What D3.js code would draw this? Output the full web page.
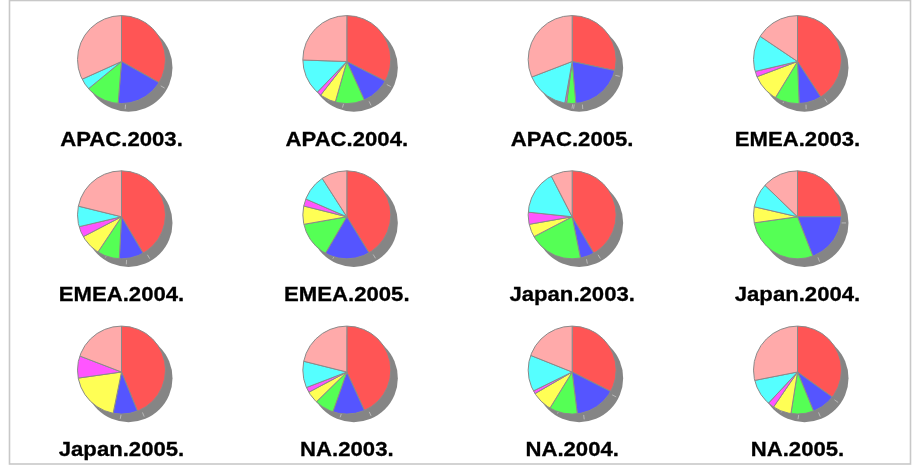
<!DOCTYPE html>
<html>
<head>
<meta charset="utf-8">
<script src="https://cdn.jsdelivr.net/npm/d3@7"></script>
<style>
html,body{margin:0;padding:0;background:#fff;overflow:hidden}
svg{display:block;filter:blur(0.6px)}
text{font-family:"Liberation Sans",Arial,sans-serif;font-weight:bold;font-size:20.5px;fill:#000;stroke:#000;stroke-width:0.3px}
</style>
</head>
<body>
<div id="chart"></div>
<script>
const categories = ["APAC.2003.","APAC.2004.","APAC.2005.","EMEA.2003.","EMEA.2004.","EMEA.2005.","Japan.2003.","Japan.2004.","Japan.2005.","NA.2003.","NA.2004.","NA.2005."];
const series1 = [119.4,117,102,146.8,149.3,148.5,149.3,90,157.8,155.4,116.8,125.8];
const series2 = [65.2,38.5,73,30.9,33.7,61.9,19.3,68.7,33.7,43.9,56.2,31.9];
const series3 = [45.9,40.3,12.7,33.7,30.7,49.6,73.9,103.3,0,26.3,38.6,31.3];
const series4 = [0,22,0,38,28.8,24,17.5,21,70.5,16.4,28.2,25.4];
const series5 = [0,6,2.3,7.4,14.3,9.4,16,0,29,7,4.2,8.6];
const series6 = [15.3,48,59,47.2,27,33.9,56.8,31,0,35,47.8,35.9];
const series7 = [114.2,88,111,56,76.2,32.7,27.2,46,69,76,68.2,101.1];
const allSeries = [series1,series2,series3,series4,series5,series6,series7];
const colors = ["#ff5555","#5555ff","#55ff55","#ffff55","#ff55ff","#55ffff","#ffaaaa"];

const W = 913, H = 467, R = 44, RIM_DY = -1.9, SHX = 7, SHY = 6.2;
const svg = d3.select("#chart").append("svg").attr("width",W).attr("height",H);

svg.append("rect").attr("x",9.5).attr("y",0.5).attr("width",901).attr("height",463.5)
  .attr("fill","#fff").attr("stroke","#c8c8c8").attr("stroke-width",1.6);

svg.append("clipPath").attr("id","rim").append("circle").attr("cy",RIM_DY).attr("r",R);

const x = d3.scalePoint().domain(d3.range(4)).range([121.5,797.5]);
const y = d3.scalePoint().domain(d3.range(3)).range([61.5,372]);
const labelY = d3.scalePoint().domain(d3.range(3)).range([146,456]);
const color = d3.scaleOrdinal().domain(d3.range(7)).range(colors);
const pie = d3.pie().sort(null).value(d=>d.v);
const arc = d3.arc().innerRadius(0).outerRadius(R+5);

categories.forEach((name,i)=>{
  const data = allSeries.map((s,k)=>({k,v:s[i]}));
  const arcs = pie(data).filter(a=>a.data.v>0);
  const col = i%4, row = Math.floor(i/4);
  const g = svg.append("g").attr("transform",`translate(${x(col)},${y(row)})`);

  const shadow = g.append("g").attr("transform",`translate(${SHX},${SHY})`);
  shadow.append("circle").attr("r",R).attr("fill","#858585");
  shadow.selectAll("path.tick").data(arcs).join("path").attr("class","tick")
    .attr("d",a=>d3.line()([d3.pointRadial(a.endAngle,R-7),d3.pointRadial(a.endAngle,R-2.5)]))
    .attr("stroke","#bdbdbd").attr("stroke-width",0.9).attr("fill","none");

  g.append("g").attr("clip-path","url(#rim)")
    .selectAll("path.slice").data(arcs).join("path").attr("class","slice")
    .attr("d",arc)
    .attr("fill",a=>color(a.data.k))
    .attr("stroke","#8a8a8a").attr("stroke-width",1).attr("stroke-linejoin","round");
  g.append("circle").attr("cy",RIM_DY).attr("r",R).attr("fill","none")
    .attr("stroke","#8a8a8a").attr("stroke-width",1);

  svg.append("text").attr("text-anchor","middle")
    .attr("transform",`translate(${x(col)},${labelY(row)}) scale(1.08,1)`).text(name);
});
</script>
</body>
</html>
